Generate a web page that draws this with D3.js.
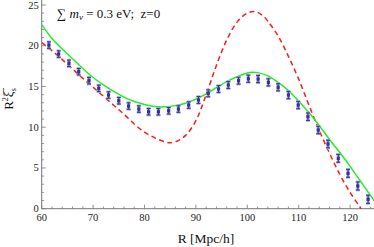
<!DOCTYPE html>
<html><head><meta charset="utf-8">
<script src="https://cdn.jsdelivr.net/npm/d3@7"></script>
<style>body{margin:0;background:#fff}svg{display:block}</style>
</head><body><svg id="c" width="374" height="247"></svg>
<script>
const pointR = [61.4,63.3,65.3,67.2,69.2,71.1,73.0,75.0,76.9,78.9,80.8,82.7,84.7,86.6,88.6,90.5,92.4,94.4,96.3,98.3,100.2,102.1,104.1,106.0,108.0,109.9,111.8,113.8,115.7,117.7,119.6,121.5,123.5];
const pointV = [20.08,18.98,17.84,16.81,15.71,14.77,13.95,13.25,12.6,12.23,11.9,11.9,12.02,12.23,12.72,13.34,14.16,14.69,15.18,15.71,15.95,15.91,15.51,14.9,13.95,12.72,11.29,9.66,7.94,6.18,4.34,2.79,1.15];
const pointErr = [0.4,0.4,0.4,0.4,0.4,0.4,0.4,0.4,0.4,0.4,0.4,0.4,0.4,0.4,0.4,0.42,0.42,0.42,0.42,0.42,0.44,0.44,0.44,0.44,0.45,0.45,0.46,0.46,0.47,0.48,0.49,0.5,0.5];
const greenR = [60,62,64,66,68,70,72,74,76,78,80,82,84,86,88,90,92,94,96,98,100,101,102,104,106,108,110,112,114,116,118,120,122,124,125];
const greenV = [22.6,20.9,19.6,18.4,17.2,16.1,15.2,14.4,13.7,13.15,12.8,12.55,12.5,12.65,12.95,13.45,14.1,14.85,15.6,16.2,16.65,16.75,16.7,16.3,15.5,14.5,13.2,11.8,10.2,8.5,6.9,5.2,3.4,1.6,0.7];
const redR = [60,62,64,66,68,70,72,74,76,78,80,82,84,85,86,88,90,92,94,96,98,100,101.5,103,104,106,108,110,112,114,116,118,120,122,123];
const redV = [20.4,19.4,18.3,17.15,16.0,14.9,13.8,12.7,11.6,10.4,9.4,8.7,8.2,8.1,8.2,9.0,10.8,14.0,17.6,20.7,22.9,24.0,24.2,23.7,23.0,21.2,18.7,15.9,12.7,9.6,6.8,4.2,2.0,0.1,-1.0];
const xTicks = [60,70,80,90,100,110,120];
const yTicks = [0,5,10,15,20,25];

const FONT = "'Liberation Serif','Times New Roman','DejaVu Serif',serif";
const svg = d3.select("#c");
const x = d3.scaleLinear().domain([60,124.65]).range([41.7,374]);
const y = d3.scaleLinear().domain([0,25]).range([208.7,5]);

svg.append("defs").append("clipPath").attr("id","clip").append("rect")
  .attr("x",41.7).attr("y",0).attr("width",333).attr("height",208.7);

const axisCol = "#777";
svg.append("line").attr("x1",x(60)).attr("x2",374).attr("y1",y(0)).attr("y2",y(0)).attr("stroke",axisCol).attr("stroke-width",1);
svg.append("line").attr("x1",x(60)).attr("x2",x(60)).attr("y1",0).attr("y2",y(0)).attr("stroke",axisCol).attr("stroke-width",1);
d3.range(60,125,2).forEach(v=>{
  const major = v%10===0;
  svg.append("line").attr("x1",x(v)).attr("x2",x(v)).attr("y1",y(0)).attr("y2",y(0)-(major?4:2.2)).attr("stroke",axisCol).attr("stroke-width",0.8);
});
xTicks.forEach(v=>{
  svg.append("text").attr("font-family",FONT).attr("fill","#222").attr("x",x(v)).attr("y",y(0)+12).attr("text-anchor","middle").attr("font-size",10.5).text(v);
});
d3.range(0,26,1).forEach(v=>{
  const major = v%5===0;
  svg.append("line").attr("x1",x(60)).attr("x2",x(60)+(major?4:2.2)).attr("y1",y(v)).attr("y2",y(v)).attr("stroke",axisCol).attr("stroke-width",0.8);
});
yTicks.forEach(v=>{
  svg.append("text").attr("font-family",FONT).attr("fill","#222").attr("x",x(60)-3).attr("y",y(v)+3.5).attr("text-anchor","end").attr("font-size",10.5).text(v);
});

const cl = svg.append("g").attr("clip-path","url(#clip)");
const line = d3.line().x(d=>x(d[0])).y(d=>y(d[1])).curve(d3.curveCatmullRom);
cl.append("path").datum(redR.map((r,i)=>[r,redV[i]])).attr("d",line)
  .attr("fill","none").attr("stroke","#ff1a1a").attr("stroke-width",1.5).attr("stroke-dasharray","5,3.5");
cl.append("path").datum(greenR.map((r,i)=>[r,greenV[i]])).attr("d",line)
  .attr("fill","none").attr("stroke","#22ee22").attr("stroke-width",1.5);

const pts = svg.append("g");
pointR.forEach((r,i)=>{
  const cx = x(r), cy = y(pointV[i]), t = y(pointV[i]+pointErr[i]), b = y(pointV[i]-pointErr[i]);
  const g = pts.append("g");
  [["#a8a8d8",2.6],["#333399",1]].forEach(([c,w])=>{
    g.append("line").attr("x1",cx).attr("x2",cx).attr("y1",t).attr("y2",b).attr("stroke",c).attr("stroke-width",w);
    g.append("line").attr("x1",cx-2).attr("x2",cx+2).attr("y1",t).attr("y2",t).attr("stroke",c).attr("stroke-width",w);
    g.append("line").attr("x1",cx-2).attr("x2",cx+2).attr("y1",b).attr("y2",b).attr("stroke",c).attr("stroke-width",w);
  });
  g.append("rect").attr("x",cx-1.6).attr("y",cy-1.6).attr("width",3.2).attr("height",3.2).attr("fill","#333399");
});

const title = svg.append("text").attr("font-family",FONT).attr("fill","#111").attr("x",57).attr("y",18).attr("font-size",13);
title.append("tspan").text("\u2211 ");
title.append("tspan").attr("font-style","italic").text("m");
title.append("tspan").attr("font-style","italic").attr("font-size",9).attr("dy",2).text("\u03bd");
title.append("tspan").attr("dy",-2).text(" = 0.3 eV;\u00a0 z=0");

svg.append("text").attr("font-family",FONT).attr("fill","#111").attr("x",206).attr("y",243).attr("text-anchor","middle").attr("font-size",13.5).text("R [Mpc/h]");

const yl = svg.append("text").attr("font-family",FONT).attr("fill","#111").attr("transform","translate(13,99) rotate(-90)").attr("text-anchor","middle").attr("font-size",13);
yl.append("tspan").text("R");
yl.append("tspan").attr("font-size",8).attr("dy",-5).text("2");
yl.append("tspan").attr("dy",5).text("\u03be\u0305");
yl.append("tspan").attr("font-size",8).attr("dy",3).text("s");
</script></body></html>
